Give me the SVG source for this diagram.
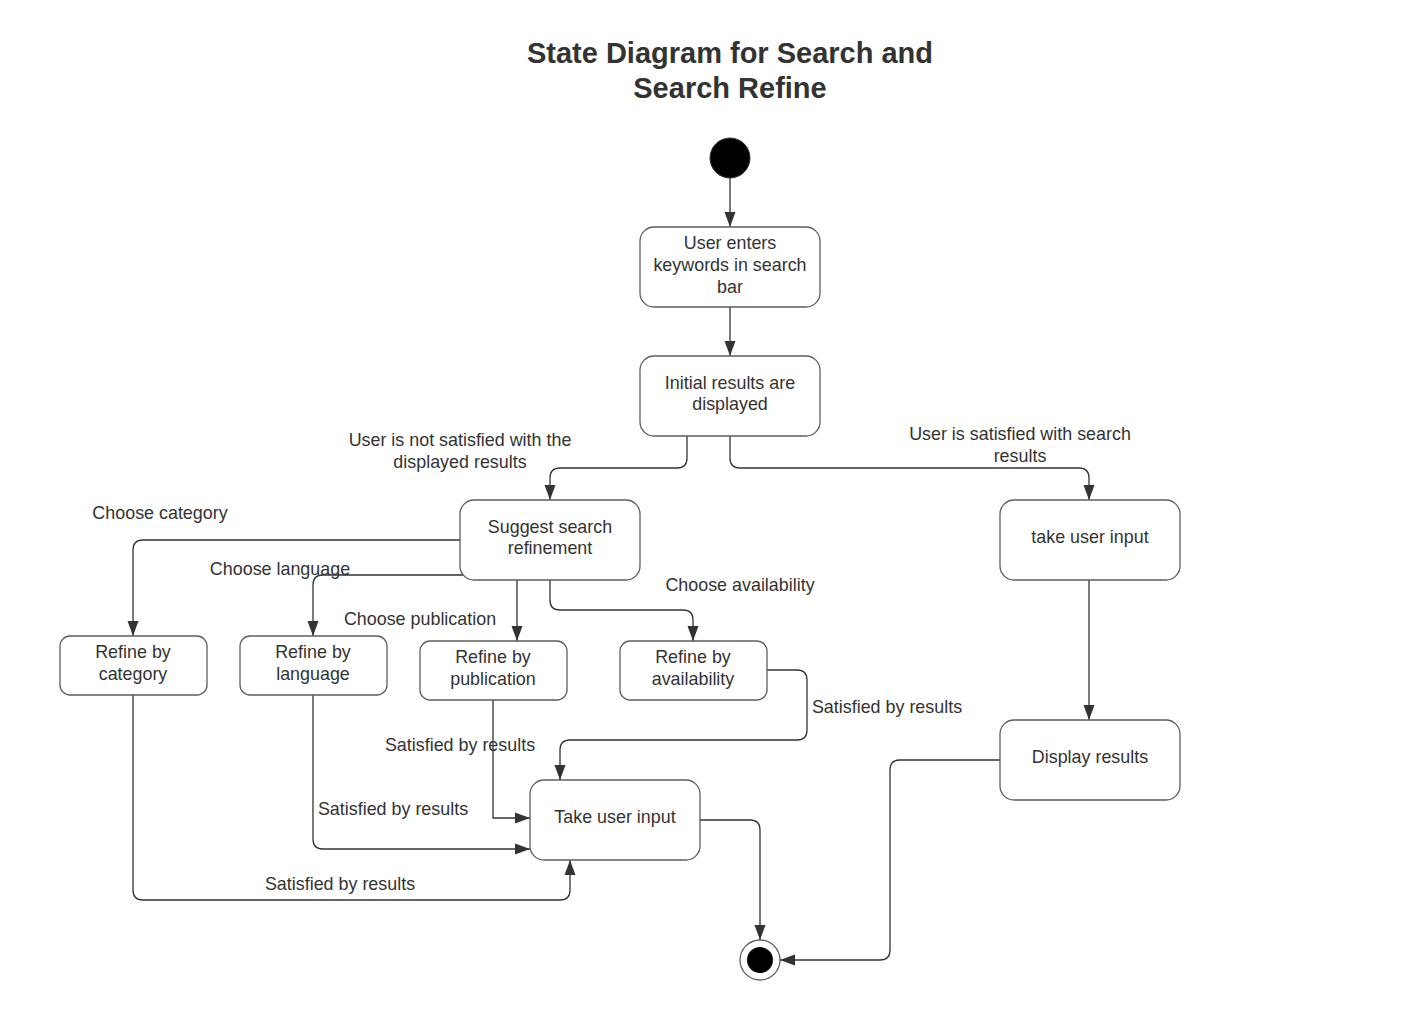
<svg xmlns="http://www.w3.org/2000/svg" width="1407" height="1020" viewBox="0 0 1407 1020">
<style>
.node rect{fill:#fff;stroke:#5e5e5e;stroke-width:1.3}
text{font-family:"Liberation Sans",Arial,sans-serif;font-size:17.9px;fill:#333;text-anchor:middle}
.title{font-size:29px;font-weight:bold}
.edge{fill:none;stroke:#333;stroke-width:1.3}
</style>
<defs>
<marker id="ah" markerUnits="userSpaceOnUse" markerWidth="16" markerHeight="14" viewBox="0 0 16 14" refX="15" refY="7" orient="auto">
<path d="M0,1.5 L15,7 L0,12.5 Z" fill="#333"/>
</marker>
</defs>
<rect width="1407" height="1020" fill="#fff"/>
<g id="title">
<text class="title" x="730" y="63">State Diagram for Search and</text>
<text class="title" x="730" y="98">Search Refine</text>
</g>
<g id="edges">
<path class="edge" d="M730,178 V227" marker-end="url(#ah)"/>
<path class="edge" d="M730,307 V356" marker-end="url(#ah)"/>
<path class="edge" d="M687,436 V458 Q687,468 677,468 H560 Q550,468 550,478 V500" marker-end="url(#ah)"/>
<path class="edge" d="M730,436 V458 Q730,468 740,468 H1079 Q1089,468 1089,478 V500" marker-end="url(#ah)"/>
<path class="edge" d="M460,540 H143 Q133,540 133,550 V636" marker-end="url(#ah)"/>
<path class="edge" d="M466,575 H323 Q313,575 313,585 V636" marker-end="url(#ah)"/>
<path class="edge" d="M517,580 V641" marker-end="url(#ah)"/>
<path class="edge" d="M550,580 V600 Q550,610 560,610 H683 Q693,610 693,620 V641" marker-end="url(#ah)"/>
<path class="edge" d="M1089,580 V720" marker-end="url(#ah)"/>
<path class="edge" d="M767,670 H797 Q807,670 807,680 V730 Q807,740 797,740 H570 Q560,740 560,750 V780" marker-end="url(#ah)"/>
<path class="edge" d="M493,700 V818 H530" marker-end="url(#ah)"/>
<path class="edge" d="M313,695 V839 Q313,849 323,849 H530" marker-end="url(#ah)"/>
<path class="edge" d="M133,695 V890 Q133,900 143,900 H560 Q570,900 570,890 V860" marker-end="url(#ah)"/>
<path class="edge" d="M700,820 H750 Q760,820 760,830 V940" marker-end="url(#ah)"/>
<path class="edge" d="M1000,760 H900 Q890,760 890,770 V950 Q890,960 880,960 H780" marker-end="url(#ah)"/>
</g>
<g id="edge-labels">
<text x="460" y="446">User is not satisfied with the</text>
<text x="460" y="468">displayed results</text>
<text x="1020" y="440">User is satisfied with search</text>
<text x="1020" y="462">results</text>
<text x="160" y="519">Choose category</text>
<text x="280" y="575">Choose language</text>
<text x="420" y="625">Choose publication</text>
<text x="740" y="591">Choose availability</text>
<text x="887" y="713">Satisfied by results</text>
<text x="460" y="751">Satisfied by results</text>
<text x="393" y="815">Satisfied by results</text>
<text x="340" y="890">Satisfied by results</text>
</g>
<g id="initial">
<circle cx="730" cy="158" r="20" fill="#000" stroke="#333" stroke-width="1"/>
</g>
<g id="n1" class="node">
<rect x="640" y="227" width="180" height="80" rx="14"/>
<text x="730" y="249">User enters</text>
<text x="730" y="271">keywords in search</text>
<text x="730" y="293">bar</text>
</g>
<g id="n2" class="node">
<rect x="640" y="356" width="180" height="80" rx="14"/>
<text x="730" y="389">Initial results are</text>
<text x="730" y="410">displayed</text>
</g>
<g id="suggest" class="node">
<rect x="460" y="500" width="180" height="80" rx="14"/>
<text x="550" y="533">Suggest search</text>
<text x="550" y="554">refinement</text>
</g>
<g id="take1" class="node">
<rect x="1000" y="500" width="180" height="80" rx="14"/>
<text x="1090" y="543">take user input</text>
</g>
<g id="cat" class="node">
<rect x="60" y="636" width="147" height="59" rx="10"/>
<text x="133" y="658">Refine by</text>
<text x="133" y="680">category</text>
</g>
<g id="lang" class="node">
<rect x="240" y="636" width="147" height="59" rx="10"/>
<text x="313" y="658">Refine by</text>
<text x="313" y="680">language</text>
</g>
<g id="pub" class="node">
<rect x="420" y="641" width="147" height="59" rx="10"/>
<text x="493" y="663">Refine by</text>
<text x="493" y="685">publication</text>
</g>
<g id="avail" class="node">
<rect x="620" y="641" width="147" height="59" rx="10"/>
<text x="693" y="663">Refine by</text>
<text x="693" y="685">availability</text>
</g>
<g id="display" class="node">
<rect x="1000" y="720" width="180" height="80" rx="14"/>
<text x="1090" y="763">Display results</text>
</g>
<g id="take2" class="node">
<rect x="530" y="780" width="170" height="80" rx="14"/>
<text x="615" y="823">Take user input</text>
</g>
<g id="final">
<circle cx="760" cy="960" r="20" fill="#fff" stroke="#5e5e5e" stroke-width="1.3"/>
<circle cx="760" cy="960" r="13" fill="#000"/>
</g>
</svg>
